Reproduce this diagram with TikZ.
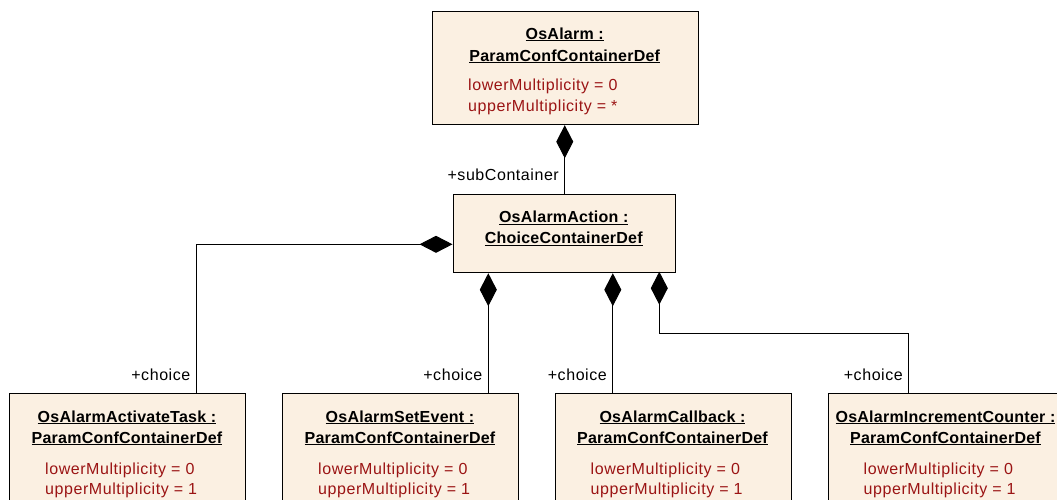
\documentclass[tikz,border=0pt]{standalone}
\usepackage{fontspec}
\setmainfont{Liberation Sans}[LetterSpace=3.5,BoldFeatures={LetterSpace=1.5}]
\usetikzlibrary{arrows.meta}
\definecolor{boxfill}{RGB}{251,240,226}
\definecolor{attrred}{RGB}{155,20,20}
\newcommand\umlfont{\fontsize{16}{19}\selectfont}
\newcommand\uline[1]{\underline{#1}}
\tikzset{
  umlbox/.style={draw, line width=1.2pt, fill=boxfill, anchor=north west, inner sep=0pt},
  title/.style={anchor=base, inner sep=0pt, font=\umlfont\bfseries},
  attr/.style={anchor=base west, inner sep=0pt, text=attrred, font=\umlfont},
  role/.style={anchor=base east, inner sep=0pt, font=\umlfont},
  comp/.style={line width=1pt, {Diamond[length=33pt,width=17pt]}-},
}
\begin{document}
\begin{tikzpicture}[x=1pt,y=-1pt]
%\draw [lightgray,step=50] (0,0) grid (1057,499);
\useasboundingbox (0,0) rectangle (1057,499);
\clip (0,0) rectangle (1057,499);

\node [umlbox, minimum width=266.5pt, minimum height=113.5pt] (alarm) at (431.5,10.5) {}; % OsAlarm
\node [umlbox, minimum width=222.5pt, minimum height=78.5pt] (action) at (452.5,193.5) {}; % OsAlarmAction
\node [umlbox, minimum width=236pt, minimum height=130pt] (task) at (9,393) {};
\node [umlbox, minimum width=236pt, minimum height=130pt] (setevent) at (282,393) {};
\node [umlbox, minimum width=236pt, minimum height=130pt] (callback) at (554.5,393) {};
\node [umlbox, minimum width=236pt, minimum height=130pt] (counter) at (827.5,393) {};

\node [title] (alarmname) at (564.75,39) {\uline{OsAlarm :}};
\node [title] (alarmtype) at (564.75,61) {\uline{ParamConfContainerDef}};
\node [attr] (alarmlow) at (468,90.5) {lowerMultiplicity = 0};
\node [attr] (alarmup) at (468,111.5) {upperMultiplicity = *};

\node [title] (actionname) at (563.75,222.7) {\uline{OsAlarmAction :}};
\node [title] (actiontype) at (563.75,243.3) {\uline{ChoiceContainerDef}};

\node [title] (taskname) at (127,422) {\uline{OsAlarmActivateTask :}};
\node [title] (tasktype) at (127,443) {\uline{ParamConfContainerDef}};
\node [attr] (tasklow) at (45,474) {lowerMultiplicity = 0};
\node [attr] (taskup) at (45,494.5) {upperMultiplicity = 1};

\node [title] (setname) at (400,422) {\uline{OsAlarmSetEvent :}};
\node [title] (settype) at (400,443) {\uline{ParamConfContainerDef}};
\node [attr] (setlow) at (318,474) {lowerMultiplicity = 0};
\node [attr] (setup) at (318,494.5) {upperMultiplicity = 1};

\node [title] (callname) at (672.5,422) {\uline{OsAlarmCallback :}};
\node [title] (calltype) at (672.5,443) {\uline{ParamConfContainerDef}};
\node [attr] (calllow) at (590.5,474) {lowerMultiplicity = 0};
\node [attr] (callup) at (590.5,494.5) {upperMultiplicity = 1};

\node [title] (cntname) at (945.5,422) {\uline{OsAlarmIncrementCounter :}};
\node [title] (cnttype) at (945.5,443) {\uline{ParamConfContainerDef}};
\node [attr] (cntlow) at (863.5,474) {lowerMultiplicity = 0};
\node [attr] (cntup) at (863.5,494.5) {upperMultiplicity = 1};

% aggregation lines
\coordinate (subin) at (564.75,193.5);
\coordinate (taskbend) at (196,244.3);
\coordinate (setin) at (488.3,393);
\coordinate (callin) at (612.8,393);
\coordinate (cntout) at (659.3,271.7);
\coordinate (cntin) at (908.8,393);

\draw [comp] (alarm.south -| subin) -- (subin);
\draw [comp] (taskbend -| action.west) -- (taskbend) -- (taskbend |- task.north);
\draw [comp] (action.south -| setin) -- (setin);
\draw [comp] (action.south -| callin) -- (callin);
\draw [comp] (cntout) -- ++(0,61.6) -| (cntin);

\node [role] (subrole) at (559,180) {+subContainer};
\node [role] (taskrole) at (190.5,380.7) {+choice};
\node [role] (setrole) at (482.5,380.7) {+choice};
\node [role] (callrole) at (607,380.7) {+choice};
\node [role] (cntrole) at (903,380.7) {+choice};

\end{tikzpicture}
\end{document}
